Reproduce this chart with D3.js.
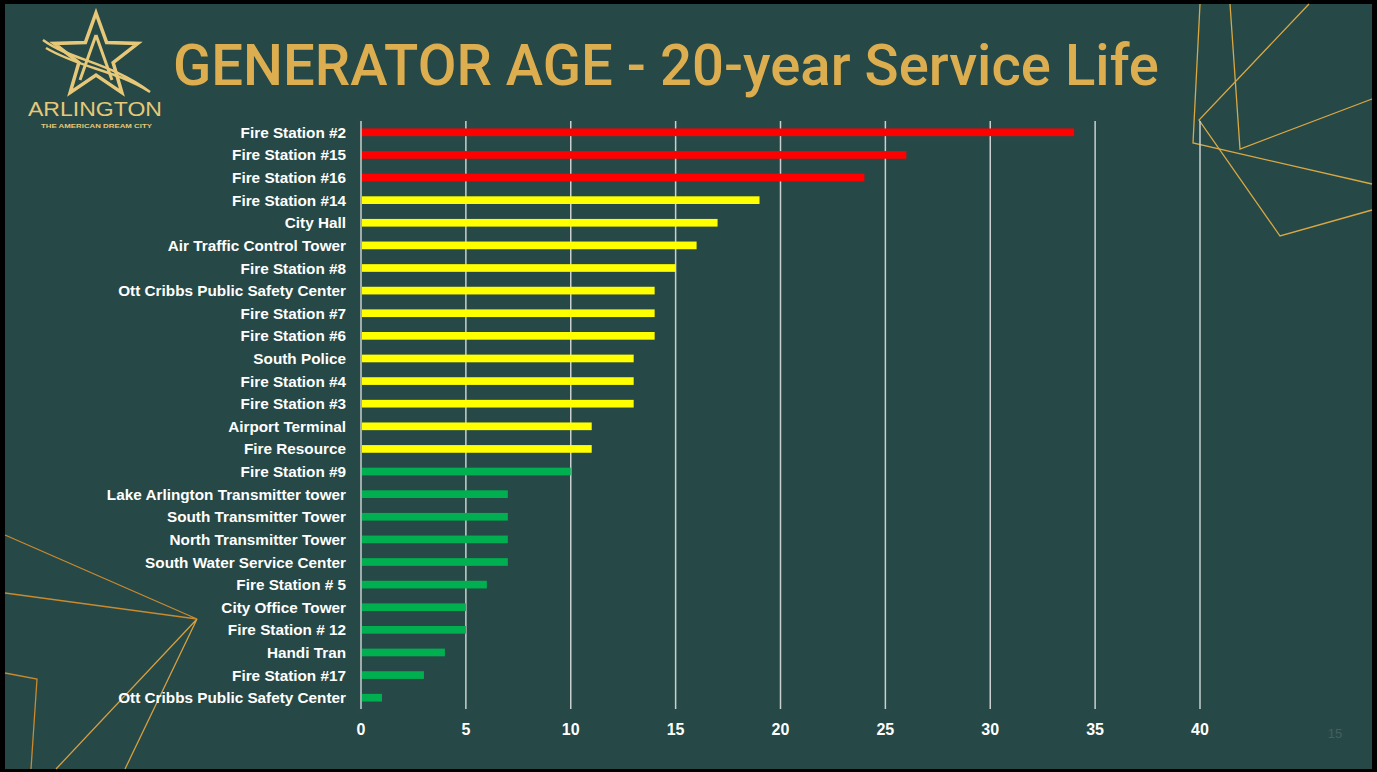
<!DOCTYPE html>
<html>
<head>
<meta charset="utf-8">
<script src="https://cdn.jsdelivr.net/npm/d3@7"></script>
<style>
  html, body { margin: 0; padding: 0; background: #000; }
  svg { display: block; }
</style>
</head>
<body>
<div id="chart"></div>
<script>
// Generator sites, top to bottom as shown
const sites = [
    "Fire Station #2", "Fire Station #15", "Fire Station #16", "Fire Station #14",
    "City Hall", "Air Traffic Control Tower", "Fire Station #8",
    "Ott Cribbs Public Safety Center", "Fire Station #7", "Fire Station #6",
    "South Police", "Fire Station #4", "Fire Station #3", "Airport Terminal",
    "Fire Resource", "Fire Station #9", "Lake Arlington Transmitter tower",
    "South Transmitter Tower", "North Transmitter Tower", "South Water Service Center",
    "Fire Station # 5", "City Office Tower", "Fire Station # 12", "Handi Tran",
    "Fire Station #17", "Ott Cribbs Public Safety Center "
];
// generator age in years
const ages = [34, 26, 24, 19, 17, 16, 15, 14, 14, 14, 13, 13, 13, 11, 11, 10, 7, 7, 7, 7, 6, 5, 5, 4, 3, 1];
const xTicks = [0, 5, 10, 15, 20, 25, 30, 35, 40];

const width = 1377, height = 772;
const bg = "#264846";
const gold = "#dcae50";

const svg = d3.select("#chart").append("svg")
    .attr("width", width)
    .attr("height", height)
    .attr("viewBox", [0, 0, width, height]);

// black frame + slide background
svg.append("rect").attr("width", width).attr("height", height).attr("fill", "#000");
svg.append("rect")
    .attr("x", 5).attr("y", 4)
    .attr("width", width - 10).attr("height", height - 7)
    .attr("fill", bg);

// decorative lines
const deco = svg.append("g").attr("fill", "none").attr("stroke-width", 1.3);
const decoLines = [
    { c: "#d9a845", p: [[1200, 4], [1193, 143], [1372, 184]] },
    { c: "#d9a845", p: [[1230, 4], [1240, 149], [1372, 99]] },
    { c: "#d9a845", p: [[1309, 4], [1199, 120], [1280, 236], [1372, 210]] },
    { c: "#c98a30", p: [[5, 535], [197, 619], [5, 593]] },
    { c: "#d5a040", p: [[56, 769], [197, 619], [125, 769]] },
    { c: "#c98a30", p: [[5, 673], [37, 679], [31, 769]] }
];
deco.selectAll("path")
    .data(decoLines)
    .join("path")
    .attr("stroke", d => d.c)
    .attr("d", d => d3.line()(d.p));

// chart area
const margin = { top: 121, left: 361, right: 177, bottom: 64 };
const x = d3.scaleLinear()
    .domain([0, 40])
    .range([margin.left, width - margin.right]);

const y = d3.scaleBand()
    .domain(sites)
    .range([margin.top, height - margin.bottom + 1])
    .paddingInner(0.66)
    .paddingOuter(0.33);

const color = v => v > 20 ? "#ff0000" : v > 10 ? "#ffff00" : "#00b050";

// gridlines
svg.append("g")
    .selectAll("line")
    .data(xTicks)
    .join("line")
    .attr("x1", d => x(d)).attr("x2", d => x(d))
    .attr("y1", margin.top).attr("y2", height - margin.bottom + 1)
    .attr("stroke", "#c9d0cf")
    .attr("stroke-width", 1.5);

// bars
svg.append("g")
    .selectAll("rect")
    .data(sites)
    .join("rect")
    .attr("x", x(0) + 1)
    .attr("y", d => y(d))
    .attr("width", (d, i) => x(ages[i]) - x(0) - 1)
    .attr("height", y.bandwidth())
    .attr("fill", (d, i) => color(ages[i]));

// category labels
svg.append("g")
    .selectAll("text")
    .data(sites)
    .join("text")
    .attr("x", 346)
    .attr("y", d => y(d) + y.bandwidth() / 2)
    .attr("dy", "0.36em")
    .attr("text-anchor", "end")
    .style("font-family", "'Liberation Sans', Arial, sans-serif")
    .style("font-weight", "700")
    .style("font-size", "15.3px")
    .style("fill", "#ffffff")
    .text(d => d.trim());

// x axis tick labels
svg.append("g")
    .selectAll("text")
    .data(xTicks)
    .join("text")
    .attr("x", d => x(d))
    .attr("y", 735)
    .attr("text-anchor", "middle")
    .style("font-family", "'Liberation Sans', Arial, sans-serif")
    .style("font-weight", "700")
    .style("font-size", "16px")
    .style("fill", "#ffffff")
    .text(d => d);

// title
svg.append("text")
    .attr("x", 173)
    .attr("y", 85)
    .attr("textLength", 986)
    .attr("lengthAdjust", "spacingAndGlyphs")
    .style("font-family", "Roboto, 'Liberation Sans', Arial, sans-serif")
    .style("font-weight", "500")
    .style("font-size", "58px")
    .style("fill", gold)
    .text("GENERATOR AGE - 20-year Service Life");

// page number
svg.append("text")
    .attr("x", 1335)
    .attr("y", 738)
    .attr("text-anchor", "middle")
    .style("font-family", "'Liberation Sans', Arial, sans-serif")
    .style("font-size", "13px")
    .style("fill", "#44605e")
    .text("15");

// logo
const logo = svg.append("g").attr("fill", "none").attr("stroke", "#e6c878");
const star = [];
for (let i = 0; i < 10; i++) {
    const a = -Math.PI / 2 + i * Math.PI / 5;
    const r = i % 2 === 0 ? 44 : 18;
    star.push([96 + r * Math.cos(a), 57 + r * Math.sin(a)]);
}
logo.append("path")
    .attr("d", d3.line()(star) + "Z")
    .attr("stroke-width", 3.5);
logo.append("path")
    .attr("d", "M43,40 C70,60 110,62 150,92 C115,70 80,68 46,48")
    .attr("stroke-width", 2.5);
logo.append("path")
    .attr("d", "M96,35 L80,80 M96,35 L112,80")
    .attr("stroke-width", 3);
svg.append("text")
    .attr("x", 28)
    .attr("y", 116)
    .attr("textLength", 134)
    .attr("lengthAdjust", "spacingAndGlyphs")
    .style("font-family", "'Liberation Sans', Arial, sans-serif")
    .style("font-size", "21px")
    .style("fill", "#e6c878")
    .text("ARLINGTON");
svg.append("text")
    .attr("x", 41)
    .attr("y", 128)
    .attr("textLength", 111)
    .attr("lengthAdjust", "spacingAndGlyphs")
    .style("font-family", "'Liberation Sans', Arial, sans-serif")
    .style("font-weight", "700")
    .style("font-size", "6px")
    .style("fill", "#e6c878")
    .text("THE AMERICAN DREAM CITY");
</script>
</body>
</html>
